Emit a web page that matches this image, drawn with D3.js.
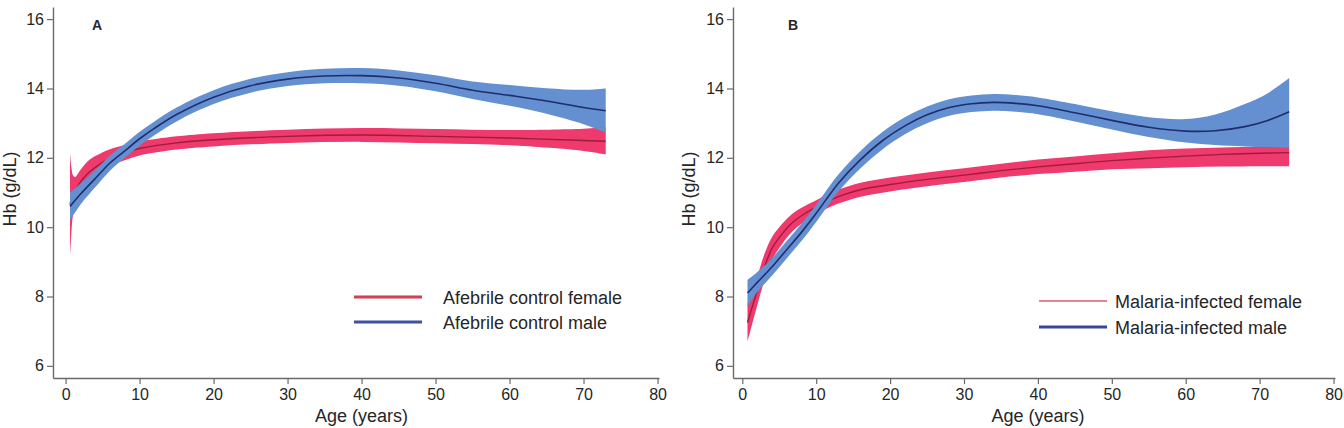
<!DOCTYPE html>
<html><head><meta charset="utf-8">
<script src="https://cdn.jsdelivr.net/npm/d3@7"></script>
<style>
body{margin:0;background:#fff;}
svg{display:block;}
text{font-family:"Liberation Sans",Arial,Helvetica,sans-serif;fill:#262626;}
</style>
</head><body>
<svg id="chart" width="1344" height="428"></svg>
<script>
// ---------- data ----------
const xTicks = [0, 10, 20, 30, 40, 50, 60, 70, 80];
const yTicks = [6, 8, 10, 12, 14, 16];
const panelLabels = ["A", "B"];
const legendA = ["Afebrile control female", "Afebrile control male"];
const legendB = ["Malaria-infected female", "Malaria-infected male"];

// Panel A female
const aFemAge = [0.6, 0.8, 1.0, 1.3, 2, 3, 4, 6, 8, 10, 15, 20, 30, 40, 50, 60, 70, 73];
const aFemMid = [10.65, 10.85, 10.95, 11.05, 11.3, 11.55, 11.72, 12.0, 12.15, 12.27, 12.43, 12.52, 12.62, 12.66, 12.62, 12.57, 12.5, 12.48];
const aFemLo  = [9.15, 9.9, 10.35, 10.65, 10.95, 11.2, 11.4, 11.75, 11.93, 12.07, 12.24, 12.33, 12.43, 12.46, 12.42, 12.36, 12.2, 12.1];
const aFemHi  = [12.15, 11.7, 11.5, 11.45, 11.65, 11.9, 12.05, 12.25, 12.37, 12.47, 12.62, 12.71, 12.81, 12.86, 12.83, 12.8, 12.84, 12.88];

// Panel A male
const aMalAge = [0.6, 2, 4, 6, 8, 10, 12, 15, 20, 25, 30, 35, 40, 45, 50, 55, 60, 65, 70, 73];
const aMalMid = [10.6, 10.95, 11.4, 11.85, 12.2, 12.55, 12.85, 13.25, 13.75, 14.08, 14.27, 14.36, 14.37, 14.3, 14.15, 13.95, 13.8, 13.64, 13.45, 13.36];
const aMalLo  = [10.2, 10.65, 11.15, 11.63, 12.0, 12.35, 12.65, 13.05, 13.55, 13.88, 14.07, 14.15, 14.15, 14.08, 13.92, 13.7, 13.5, 13.27, 12.97, 12.73];
const aMalHi  = [11.0, 11.25, 11.65, 12.07, 12.4, 12.75, 13.05, 13.45, 13.95, 14.28, 14.47, 14.57, 14.59, 14.52, 14.38, 14.2, 14.1, 14.01, 13.96, 14.0];

// Panel B female
const bFemAge = [0.7, 1.2, 2, 3, 4, 5, 6.5, 8, 10, 13, 16, 20, 25, 30, 35, 40, 45, 50, 55, 60, 65, 70, 74];
const bFemMid = [7.25, 7.6, 8.15, 8.85, 9.38, 9.7, 10.08, 10.33, 10.58, 10.88, 11.08, 11.23, 11.38, 11.5, 11.63, 11.74, 11.83, 11.92, 11.99, 12.05, 12.1, 12.13, 12.15];
const bFemLo  = [6.7, 7.1, 7.73, 8.47, 9.05, 9.4, 9.82, 10.1, 10.38, 10.68, 10.88, 11.03, 11.18, 11.3, 11.43, 11.53, 11.6, 11.67, 11.7, 11.73, 11.75, 11.76, 11.76];
const bFemHi  = [7.8, 8.1, 8.57, 9.23, 9.71, 10.0, 10.34, 10.56, 10.78, 11.08, 11.28, 11.43, 11.58, 11.7, 11.83, 11.95, 12.04, 12.13, 12.22, 12.27, 12.3, 12.32, 12.34];

// Panel B male
const bMalAge = [0.7, 2, 4, 6, 8, 10, 13, 16, 19, 22, 25, 28, 31, 34, 37, 40, 45, 50, 55, 60, 64, 68, 71, 74];
const bMalMid = [8.1, 8.4, 8.85, 9.35, 9.85, 10.4, 11.27, 11.95, 12.5, 12.92, 13.24, 13.45, 13.56, 13.6, 13.57, 13.5, 13.3, 13.08, 12.88, 12.77, 12.78, 12.9, 13.07, 13.33];
const bMalLo  = [7.7, 8.12, 8.6, 9.1, 9.6, 10.15, 11.02, 11.7, 12.25, 12.68, 13.0, 13.21, 13.32, 13.36, 13.33, 13.26, 13.05, 12.82, 12.6, 12.44, 12.37, 12.33, 12.31, 12.3];
const bMalHi  = [8.48, 8.7, 9.1, 9.6, 10.1, 10.65, 11.52, 12.2, 12.75, 13.17, 13.48, 13.69, 13.8, 13.84, 13.81, 13.74, 13.55, 13.34, 13.17, 13.12, 13.25, 13.55, 13.85, 14.3];

// ---------- drawing ----------
const svg = d3.select("#chart");
const COL = {
  femBand: "#ee3a6c", femLine: "#9e1c3c",
  malBand: "#6490d2", malLine: "#1f2d6b",
  axis: "#6a6a6a"
};

function series(age, mid, lo, hi) {
  return age.map((a, i) => ({a, m: mid[i], l: lo[i], h: hi[i]}));
}

function panel(cfg) {
  const g = svg.append("g");
  const x = d3.scaleLinear().domain(cfg.xDomain).range(cfg.xRange);
  const y = d3.scaleLinear().domain([5.65, 16.35]).range([378, 7]);
  const curve = d3.curveCatmullRom.alpha(0.5);

  const area = d3.area().curve(curve)
    .x(d => x(d.a)).y0(d => y(d.l)).y1(d => y(d.h));
  const line = d3.line().curve(curve)
    .x(d => x(d.a)).y(d => y(d.m));

  const fem = series(...cfg.fem), mal = series(...cfg.mal);
  g.append("path").attr("d", area(fem)).attr("fill", COL.femBand);
  g.append("path").attr("d", line(fem)).attr("fill", "none").attr("stroke", COL.femLine).attr("stroke-width", 1.4);
  g.append("path").attr("d", area(mal)).attr("fill", COL.malBand);
  g.append("path").attr("d", line(mal)).attr("fill", "none").attr("stroke", COL.malLine).attr("stroke-width", 1.6);

  // axes
  const yAx = g.append("g").attr("transform", `translate(${cfg.xRange[0]},0)`)
    .call(d3.axisLeft(y).tickValues(yTicks).tickSize(6).tickPadding(3).tickSizeOuter(0));
  const xAx = g.append("g").attr("transform", `translate(0,378)`)
    .call(d3.axisBottom(x).tickValues(xTicks).tickSize(6).tickPadding(5).tickSizeOuter(0));
  [yAx, xAx].forEach(ax => {
    ax.select(".domain").attr("stroke", COL.axis).attr("stroke-width", 1.4);
    ax.selectAll(".tick line").attr("stroke", COL.axis).attr("stroke-width", 1.2);
    ax.selectAll(".tick text").attr("fill", "#262626").style("font-size", "16px")
      .style("font-family", '"Liberation Sans",Arial,sans-serif');
  });

  // titles
  g.append("text").attr("x", x(40)).attr("y", 422)
    .attr("text-anchor", "middle").style("font-size", "18px").text("Age (years)");
  g.append("text").attr("transform", `translate(${cfg.yTitleX},189) rotate(-90)`)
    .attr("text-anchor", "middle").style("font-size", "18px").text("Hb (g/dL)");
  g.append("text").attr("x", cfg.labelX).attr("y", 30).attr("text-anchor", "middle")
    .style("font-size", "14px").style("font-weight", "bold").text(cfg.label);

  // legend
  const lg = g.append("g");
  cfg.legend.forEach((t, i) => {
    const ly = cfg.legY[i];
    if (i === 0) {
      lg.append("line").attr("x1", cfg.legX[0]).attr("x2", cfg.legX[1]).attr("y1", ly).attr("y2", ly)
        .attr("stroke", cfg.femLeg[0]).attr("stroke-width", cfg.femLeg[1]);
      if (cfg.femLeg[2]) lg.append("line").attr("x1", cfg.legX[0]).attr("x2", cfg.legX[1]).attr("y1", ly).attr("y2", ly)
        .attr("stroke", cfg.femLeg[2]).attr("stroke-width", cfg.femLeg[3]);
    } else {
      lg.append("line").attr("x1", cfg.legX[0]).attr("x2", cfg.legX[1]).attr("y1", ly).attr("y2", ly)
        .attr("stroke", cfg.malLeg[0]).attr("stroke-width", cfg.malLeg[1]);
    }
    lg.append("text").attr("x", cfg.legTextX).attr("y", ly + 6.5).style("font-size", "18px").text(t);
  });
}

panel({
  xDomain: [-1.7, 80.2], xRange: [53, 659],
  fem: [aFemAge, aFemMid, aFemLo, aFemHi],
  mal: [aMalAge, aMalMid, aMalLo, aMalHi],
  yTitleX: 16, labelX: 97, label: panelLabels[0],
  legend: legendA, legX: [354, 422], legY: [297, 322], legTextX: 443,
  femLeg: ["#eb98a2", 4, "#c94458", 1.8], malLeg: ["#3f51a0", 3.2]
});
panel({
  xDomain: [-1.26, 80.2], xRange: [733, 1335],
  fem: [bFemAge, bFemMid, bFemLo, bFemHi],
  mal: [bMalAge, bMalMid, bMalLo, bMalHi],
  yTitleX: 695, labelX: 793, label: panelLabels[1],
  legend: legendB, legX: [1039, 1107], legY: [301, 327], legTextX: 1115,
  femLeg: ["#e3848e", 1.8, null, 0], malLeg: ["#38479a", 3]
});
</script>
</body></html>
